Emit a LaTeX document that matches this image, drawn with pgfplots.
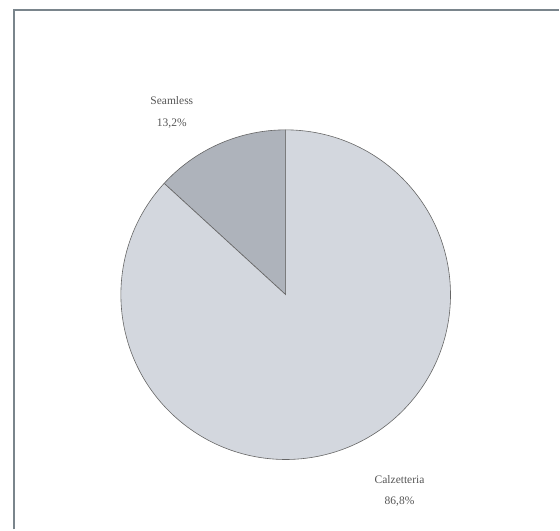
\documentclass[border=0pt]{standalone}
\usepackage{pgfplots}
\pgfplotsset{compat=1.18}
\usepackage{pgfplotstable}
\usepackage{fontspec}
\setmainfont{Liberation Serif}
\definecolor{bigslice}{HTML}{D3D7DE}
\definecolor{smallslice}{HTML}{AEB3BB}
\definecolor{framec}{HTML}{7A858C}
\definecolor{txt}{HTML}{555555}
\pgfplotstableread{
label value
Calzetteria 86.8
Seamless 13.2
}\piedata
\begin{document}
\begin{tikzpicture}
\pgfplotstablegetelem{0}{value}\of\piedata \let\valA\pgfplotsretval
\pgfplotstablegetelem{1}{value}\of\piedata \let\valB\pgfplotsretval
\pgfmathsetmacro{\angB}{90+3.6*\valB}
\pgfmathsetmacro{\angA}{\angB+3.6*\valA}
\begin{axis}[
  x=1pt, y=1pt,
  xmin=0, xmax=560, ymin=0, ymax=530,
  scale only axis, hide axis, clip=false,
]
\path (axis cs:0,0) rectangle (axis cs:560,530);
% frame
\draw[framec, line width=1.2pt] (axis cs:14,0) -- (axis cs:14,520) -- (axis cs:560,520);
% small slice (Seamless)
\filldraw[fill=smallslice, draw=black!60, line width=0.6pt]
  (axis cs:286,235) -- ++(90:165pt) arc[start angle=90, end angle=\angB, radius=165pt] -- cycle;
% large slice (Calzetteria)
\filldraw[fill=bigslice, draw=black!60, line width=0.6pt]
  (axis cs:286,235) -- ++(\angB:165pt) arc[start angle=\angB, end angle=\angA, radius=165pt] -- cycle;
\node[txt, font=\fontsize{11.5}{22}\selectfont, align=center] at (axis cs:172,417) {Seamless\\13,2\%};
\node[txt, font=\fontsize{11.5}{21}\selectfont, align=center] at (axis cs:400,39) {Calzetteria\\86,8\%};
\end{axis}
\end{tikzpicture}
\end{document}
